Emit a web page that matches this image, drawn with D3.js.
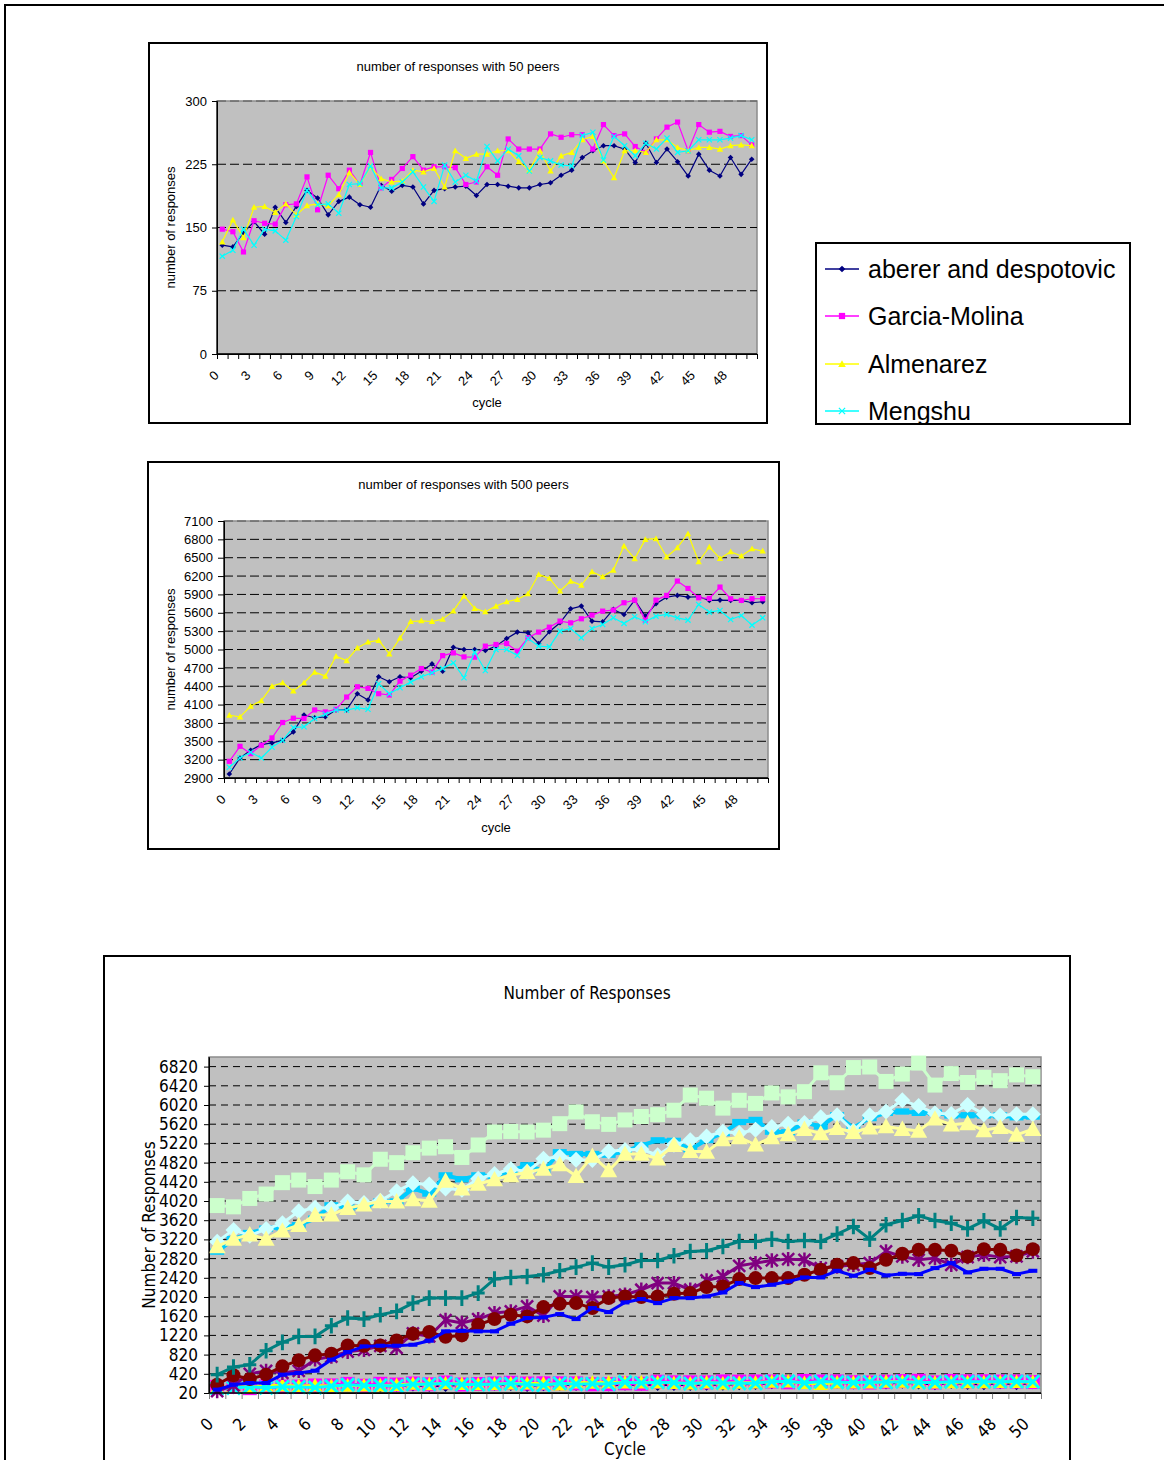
<!DOCTYPE html>
<html>
<head>
<meta charset="utf-8">
<script src="https://cdn.jsdelivr.net/npm/d3@7"></script>
<style>
  body { margin: 0; background: #fff; }
  svg { display: block; }
  text { font-family: "Liberation Sans", Arial, sans-serif; fill: #000; }
  .narrow text, text.narrow { font-family: "Liberation Sans Narrow", "Arial Narrow", "DejaVu Sans Condensed", sans-serif; }
</style>
</head>
<body>
<div id="page"></div>
<script>

// categories and tick labels
const cycles = [0,1,2,3,4,5,6,7,8,9,10,11,12,13,14,15,16,17,18,19,20,21,22,23,24,25,
  26,27,28,29,30,31,32,33,34,35,36,37,38,39,40,41,42,43,44,45,46,47,48,49,50];
const xLabelsEvery3 = [0,3,6,9,12,15,18,21,24,27,30,33,36,39,42,45,48];
const xLabelsEvery2 = [0,2,4,6,8,10,12,14,16,18,20,22,24,26,28,30,32,34,36,38,40,42,44,46,48,50];
const yTicks50 = [0,75,150,225,300];
const yTicks500 = [2900,3200,3500,3800,4100,4400,4700,5000,5300,5600,5900,6200,6500,6800,7100];
const yTicksAll = [20,420,820,1220,1620,2020,2420,2820,3220,3620,4020,4420,4820,5220,5620,6020,6420,6820];
const seriesNames = ["aberer and despotovic", "Garcia-Molina", "Almenarez", "Mengshu"];

// 50 peers
const aberer50 = [129,127,144,157,142,174,156,175,194,185,165,181,186,177,174,200,193,200,198,178,194,196,198,
  199,188,201,201,199,197,197,201,203,212,218,233,241,247,247,243,227,250,227,243,228,211,237,218,211,233,213,231];
const garcia50 = [148,145,121,158,155,154,177,178,210,171,212,196,218,201,239,197,207,220,234,218,222,222,221,
  201,204,222,212,255,243,243,243,261,257,260,260,243,272,259,261,246,239,255,269,275,241,272,263,264,258,259,248];
const almen50 = [133,159,138,174,175,168,178,165,176,178,176,189,215,201,222,208,204,205,218,216,220,198,241,
  232,237,237,241,241,228,218,241,217,235,239,254,258,229,209,241,241,239,254,254,245,241,245,245,243,247,248,247];
const meng50 = [116,123,148,129,148,146,135,163,194,177,178,167,201,202,223,197,197,204,216,198,181,224,204,
  212,205,246,229,243,235,217,233,229,224,223,259,263,230,258,247,235,250,243,256,239,241,254,254,254,256,259,254];

// 500 peers
const aberer500 = [2965,3227,3353,3445,3473,3516,3653,3930,3885,3900,4012,4012,4278,4175,4554,4473,4554,4538,4646,4765,4646,5036,5000,
  5000,4984,5055,5180,5284,5273,5098,5289,5436,5665,5709,5464,5453,5655,5573,5807,5545,5747,5856,5884,5856,5862,5802,5807,5802,5802,5764,5780];
const garcia500 = [3173,3418,3298,3435,3555,3807,3877,3872,4012,3980,4023,4223,4391,4364,4278,4256,4483,4581,4689,4630,4900,4944,4879,
  4875,5055,5082,5098,4973,5191,5284,5365,5464,5436,5502,5562,5627,5644,5764,5807,5480,5807,5884,6118,5998,5846,5835,6020,5829,5802,5829,5829];
const almen500 = [3925,3898,4073,4165,4402,4456,4321,4456,4630,4565,4890,4819,5025,5122,5150,4927,5187,5458,5469,5458,5496,5631,5875,
  5671,5616,5709,5780,5818,5911,6227,6162,5955,6118,6053,6271,6189,6298,6691,6484,6800,6811,6511,6664,6893,6435,6675,6489,6598,6527,6647,6609];
const meng500 = [3075,3227,3320,3227,3402,3516,3726,3736,3872,3942,4012,4007,4050,4023,4440,4278,4375,4467,4554,4619,4689,4781,4538,
  4956,4656,5000,5000,4902,5180,5055,5044,5300,5344,5191,5344,5409,5518,5426,5535,5453,5545,5573,5518,5480,5736,5611,5638,5491,5556,5398,5518];

// extra series only in the combined chart
const starRun = [60,180,420,480,440,480,720,780,880,920,1000,960,1260,1200,
  1540,1480,1560,1685,1720,1824,1630,2032,2032,2018,2032,2067,2171,2310,2310,2171,2365,2448,2670,2726,
  2781,2809,2795,2622,2656,2691,2726,2969,2865,2795,2830,2691,2851,2899,2851,2865,2969];
const circleRun = [193,390,311,402,575,700,804,839,1012,1005,1012,1116,1255,1290,
  1190,1220,1442,1560,1650,1616,1810,1879,1893,1789,1997,2032,2018,2032,2087,2101,2226,2240,2393,2414,
  2414,2414,2483,2587,2691,2726,2622,2795,2920,3003,3003,2983,2865,3017,3003,2885,3017];
const plusRun = [402,561,610,901,1075,1199,1199,1421,1581,1560,1650,1720,1893,1997,1997,
  1997,2101,2393,2427,2448,2483,2566,2643,2726,2643,2691,2781,2781,2878,2969,2983,3073,3177,3177,
  3225,3177,3198,3177,3329,3489,3225,3524,3614,3711,3614,3558,3440,3607,3440,3676,3662];
const dashRun = [90,193,228,228,402,436,485,714,873,991,1005,1005,1026,1109,
  1304,1317,1304,1304,1463,1581,1595,1664,1560,1789,1706,1907,1977,1893,1997,1997,2032,2115,2310,2226,
  2275,2344,2427,2427,2566,2462,2587,2469,2504,2497,2622,2726,2532,2608,2608,2497,2566];

// marker shapes
function markerPath(type, s) {
  switch (type) {
    case "diamond": return `M0,${-s}L${s},0L0,${s}L${-s},0Z`;
    case "square": return `M${-s},${-s}H${s}V${s}H${-s}Z`;
    case "triangle": return `M0,${-s}L${s},${s * 0.8}L${-s},${s * 0.8}Z`;
    case "x": return `M${-s},${-s}L${s},${s}M${s},${-s}L${-s},${s}`;
    case "star": return `M${-s},${-s}L${s},${s}M${s},${-s}L${-s},${s}M0,${-s * 1.2}V${s * 1.2}`;
    case "plus": return `M${-s},0H${s}M0,${-s * 1.2}V${s * 1.2}`;
    case "circle": return d3.symbol(d3.symbolCircle, Math.PI * s * s)();
    case "dash": return `M${-s},${-s * 0.45}H${s}V${s * 0.45}H${-s}Z`;
  }
}
const strokeMarkers = ["x", "star", "plus"];

const svg = d3.select("#page").append("svg")
  .attr("width", 1164)
  .attr("height", 1460);

svg.append("rect").attr("width", 1164).attr("height", 1460).attr("fill", "#fff");

// page frame
svg.append("path")
  .attr("d", "M5,1460V5H1164")
  .attr("fill", "none")
  .attr("stroke", "#000")
  .attr("stroke-width", 2);

function drawChart(cfg) {
  let g = svg.append("g").attr("class", cfg.narrow ? "narrow" : null);
  let p = cfg.plot;

  // outer box
  g.append("rect")
    .attr("x", cfg.box[0]).attr("y", cfg.box[1])
    .attr("width", cfg.box[2]).attr("height", cfg.box[3])
    .attr("fill", "#fff").attr("stroke", "#000").attr("stroke-width", 2);

  let x = d3.scaleBand().domain(cycles).range([p.left, p.right]);
  let xEdge = d3.scaleLinear().domain([0, cycles.length]).range([p.left, p.right]);
  let y = d3.scaleLinear().domain(cfg.yDomain).range([p.bottom, p.top]);
  let cx = d => x(d) + x.bandwidth() / 2;

  // plot area
  g.append("rect")
    .attr("x", p.left).attr("y", p.top)
    .attr("width", p.right - p.left).attr("height", p.bottom - p.top)
    .attr("fill", "#c0c0c0").attr("stroke", "#8c8c8c").attr("stroke-width", 1.5);

  // grid lines
  g.append("g")
    .selectAll("line")
    .data(cfg.yTicks.filter(t => t !== cfg.yTicks[0]))
    .join("line")
    .attr("x1", p.left).attr("x2", p.right)
    .attr("y1", d => y(d)).attr("y2", d => y(d))
    .attr("stroke", d => y(d) - p.top < 2 ? "#555" : "#000")
    .attr("stroke-width", cfg.gridWidth)
    .attr("stroke-dasharray", cfg.gridDash);

  // y axis
  let yAxis = g.append("g")
    .attr("transform", `translate(${p.left},0)`)
    .call(d3.axisLeft(y).tickValues(cfg.yTicks).tickFormat(d3.format("d"))
      .tickSize(cfg.yTickSize).tickSizeOuter(0).tickPadding(cfg.yPad));
  yAxis.attr("font-family", null);
  yAxis.selectAll("text").attr("font-size", cfg.tickFont);

  // x axis tick marks between categories
  let xTicks = g.append("g")
    .attr("transform", `translate(0,${p.bottom})`)
    .call(d3.axisBottom(xEdge).tickValues(d3.range(cycles.length + 1)).tickSize(cfg.xTickSize).tickSizeOuter(0).tickFormat(""));
  xTicks.selectAll(".tick line").attr("stroke", cfg.xTickColor);

  // x labels
  let xLab = g.append("g")
    .attr("transform", `translate(0,${p.bottom})`)
    .call(d3.axisBottom(x).tickValues(cfg.xLabels).tickSize(0).tickSizeOuter(0));
  xLab.select(".domain").remove();
  xLab.attr("font-family", null);
  xLab.selectAll("text")
    .attr("font-size", cfg.tickFont)
    .attr("x", 0).attr("y", 0).attr("dy", "0.35em")
    .attr("transform", `translate(${cfg.labelShift[0]},${cfg.labelShift[1]}) rotate(-45)`)
    .style("text-anchor", "end");

  // titles
  g.append("text")
    .attr("x", (cfg.box[0] * 2 + cfg.box[2]) / 2).attr("y", cfg.titleY)
    .attr("text-anchor", "middle").attr("font-size", cfg.titleFont)
    .text(cfg.title);
  g.append("text")
    .attr("transform", `translate(${cfg.yTitleX},${(p.top + p.bottom) / 2}) rotate(-90)`)
    .attr("text-anchor", "middle").attr("font-size", cfg.titleFont)
    .text(cfg.yTitle);
  g.append("text")
    .attr("x", (p.left + p.right) / 2).attr("y", cfg.xTitleY)
    .attr("text-anchor", "middle").attr("font-size", cfg.titleFont)
    .text(cfg.xTitle);

  // series
  cfg.series.forEach(s => {
    let line = d3.line().x((d, i) => cx(cycles[i])).y(d => y(d));
    g.append("path")
      .datum(s.values)
      .attr("d", line)
      .attr("fill", "none")
      .attr("stroke", s.color)
      .attr("stroke-width", s.width)
      .attr("stroke-linejoin", "round");
    let stroked = strokeMarkers.includes(s.marker);
    g.append("g")
      .selectAll("path")
      .data(s.values)
      .join("path")
      .attr("transform", (d, i) => `translate(${cx(cycles[i])},${y(d)})`)
      .attr("d", markerPath(s.marker, s.size))
      .attr("fill", stroked ? "none" : s.color)
      .attr("stroke", stroked ? s.color : "none")
      .attr("stroke-width", stroked ? s.markerStroke : 0);
  });

  // redraw the black axes on top
  g.append("line")
    .attr("x1", p.left).attr("x2", p.left).attr("y1", p.top).attr("y2", p.bottom)
    .attr("stroke", "#000");
  g.append("line")
    .attr("x1", p.left).attr("x2", p.right).attr("y1", p.bottom).attr("y2", p.bottom)
    .attr("stroke", "#000").attr("stroke-width", 1.5);
}

const smallSeries = [
  {values: aberer50, color: "#000080", marker: "diamond", size: 2.8},
  {values: garcia50, color: "#ff00ff", marker: "square", size: 2.6},
  {values: almen50, color: "#ffff00", marker: "triangle", size: 3.2},
  {values: meng50, color: "#00ffff", marker: "x", size: 2.6}
];

drawChart({
  box: [149, 43, 618, 380],
  plot: {left: 217, right: 757, top: 101, bottom: 354},
  yDomain: [0, 300], yTicks: yTicks50, xLabels: xLabelsEvery3,
  yTickSize: 5, yPad: 5, xTickSize: 5, xTickColor: "#000",
  tickFont: 13, titleFont: 13, gridWidth: 1, gridDash: "9,4",
  labelShift: [-6, 19],
  title: "number of responses with 50 peers", titleY: 71,
  yTitle: "number of responses", yTitleX: 175,
  xTitle: "cycle", xTitleY: 407,
  series: smallSeries.map(s => ({...s, width: 1.2, markerStroke: 1.2}))
});

drawChart({
  box: [148, 462, 631, 387],
  plot: {left: 224, right: 768, top: 521, bottom: 778},
  yDomain: [2900, 7100], yTicks: yTicks500, xLabels: xLabelsEvery3,
  yTickSize: 6, yPad: 5, xTickSize: 5, xTickColor: "#000",
  tickFont: 13, titleFont: 13, gridWidth: 1, gridDash: "9,4",
  labelShift: [-6, 19],
  title: "number of responses with 500 peers", titleY: 489,
  yTitle: "number of responses", yTitleX: 175,
  xTitle: "cycle", xTitleY: 832,
  series: [
    {values: aberer500, color: "#000080", marker: "diamond", size: 2.8},
    {values: garcia500, color: "#ff00ff", marker: "square", size: 2.6},
    {values: almen500, color: "#ffff00", marker: "triangle", size: 3.2},
    {values: meng500, color: "#00ffff", marker: "x", size: 2.6}
  ].map(s => ({...s, width: 1.2, markerStroke: 1.2}))
});

drawChart({
  narrow: true,
  box: [104, 956, 966, 600],
  plot: {left: 209, right: 1041, top: 1057, bottom: 1393},
  yDomain: [20, 7020], yTicks: yTicksAll, xLabels: xLabelsEvery2,
  yTickSize: 5, yPad: 6, xTickSize: 6, xTickColor: "#808080",
  tickFont: 17, titleFont: 17, gridWidth: 1, gridDash: "7,5",
  labelShift: [-7, 28],
  title: "Number of Responses", titleY: 999,
  yTitle: "Number of Responses", yTitleX: 155,
  xTitle: "Cycle", xTitleY: 1455,
  series: [
    {values: aberer50, color: "#000080", marker: "diamond", size: 6.5, width: 3},
    {values: garcia50, color: "#ff00ff", marker: "square", size: 7, width: 3},
    {values: almen50, color: "#ffff00", marker: "triangle", size: 7.5, width: 3},
    {values: meng50, color: "#00ffff", marker: "x", size: 6.5, width: 3, markerStroke: 3},
    {values: starRun, color: "#800080", marker: "star", size: 6, width: 3, markerStroke: 2.5},
    {values: circleRun, color: "#800000", marker: "circle", size: 7, width: 3},
    {values: plusRun, color: "#008080", marker: "plus", size: 6.5, width: 3, markerStroke: 3},
    {values: dashRun, color: "#0000ff", marker: "dash", size: 4.5, width: 3},
    {values: aberer500, color: "#00ccff", marker: "dash", size: 7, width: 4},
    {values: garcia500, color: "#ccffff", marker: "diamond", size: 8, width: 3},
    {values: almen500, color: "#ccffcc", marker: "square", size: 7.5, width: 3},
    {values: meng500, color: "#ffff99", marker: "triangle", size: 8.5, width: 3}
  ]
});

// legend for the small charts
const legend = svg.append("g");
legend.append("clipPath").attr("id", "legClip")
  .append("rect").attr("x", 816).attr("y", 243).attr("width", 314).attr("height", 181);
const legRows = legend.append("g").attr("clip-path", "url(#legClip)");
const legendRowY = [269, 316, 364, 411];
seriesNames.forEach((name, i) => {
  let s = smallSeries[i];
  let ry = legendRowY[i];
  legRows.append("line")
    .attr("x1", 825).attr("x2", 859).attr("y1", ry).attr("y2", ry)
    .attr("stroke", s.color).attr("stroke-width", 1.5);
  let stroked = strokeMarkers.includes(s.marker);
  legRows.append("path")
    .attr("transform", `translate(842,${ry})`)
    .attr("d", markerPath(s.marker, s.size * 1.2))
    .attr("fill", stroked ? "none" : s.color)
    .attr("stroke", stroked ? s.color : "none")
    .attr("stroke-width", 1.2);
  legRows.append("text")
    .attr("x", 868).attr("y", ry + 9)
    .attr("font-size", 25)
    .text(name);
});
legend.append("rect")
  .attr("x", 816).attr("y", 243).attr("width", 314).attr("height", 181)
  .attr("fill", "none").attr("stroke", "#000").attr("stroke-width", 2);

</script>
</body>
</html>
